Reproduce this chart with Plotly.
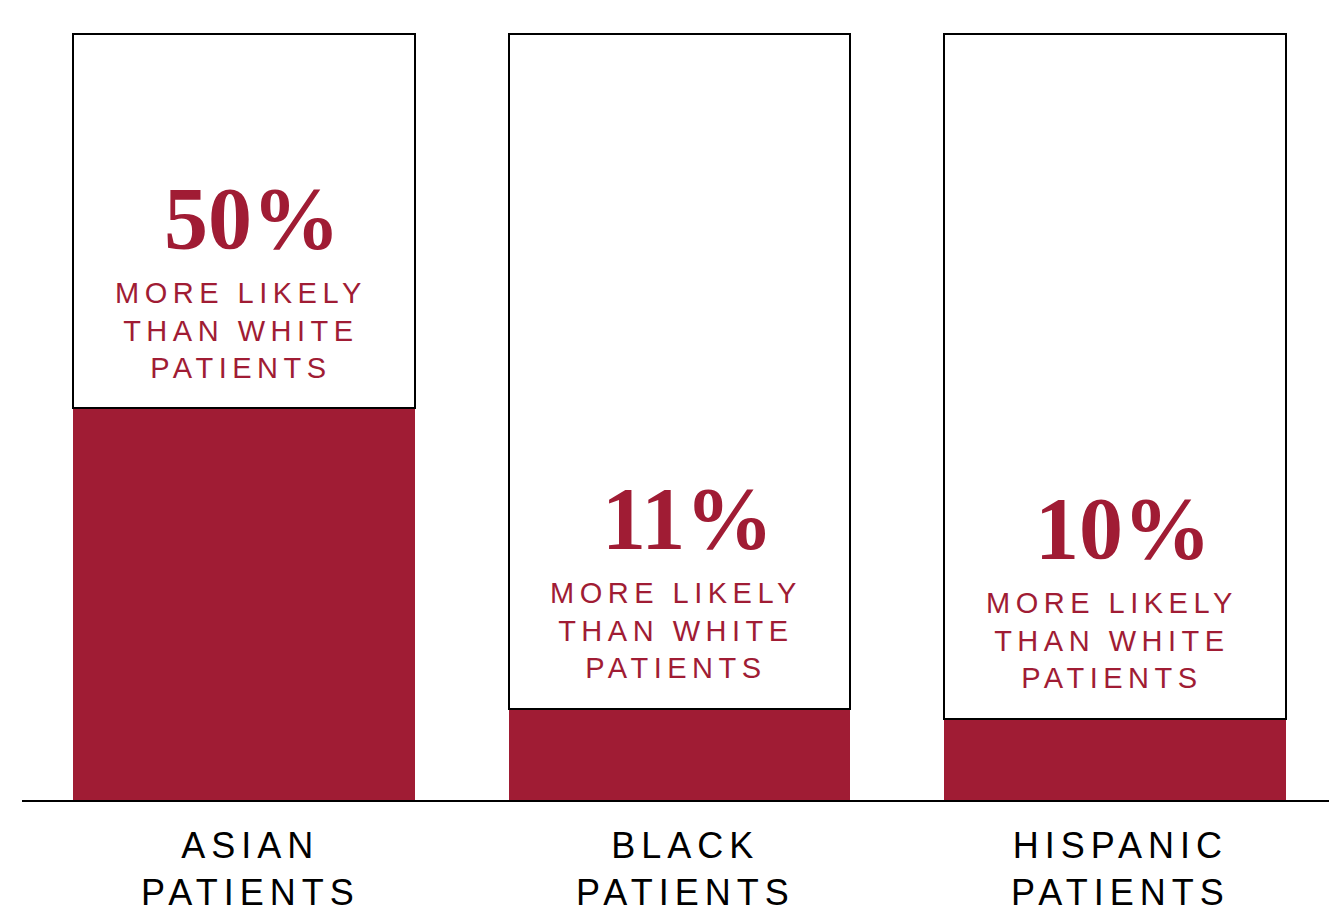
import plotly.graph_objects as go

# ---- data ----
categories = ["ASIAN", "BLACK", "HISPANIC"]
category_second_line = ["PATIENTS", "PATIENTS", "PATIENTS"]
# filled share of each bar as drawn in the picture (scale 0-100)
values = [51.1, 11.9, 10.6]
total = 100
big_labels = ["50%", "11%", "10%"]
sub_label_lines = ["MORE LIKELY", "THAN WHITE", "PATIENTS"]

RED = "#A01C34"
SANS = "Liberation Sans, Arial, sans-serif"
SERIF = "Liberation Serif, Times New Roman, serif"

x = list(range(len(categories)))
remainder = [total - v for v in values]


def spaced(s, px):
    return f"<span style='letter-spacing:{px}px'>{s}</span>"


fig = go.Figure()
fig.add_trace(go.Bar(x=x, y=values, marker=dict(color=RED, line=dict(width=0)),
                     width=0.785, hoverinfo="skip", showlegend=False))
fig.add_trace(go.Bar(x=x, y=remainder, marker=dict(color="white", line=dict(color="black", width=2)),
                     width=0.785, hoverinfo="skip", showlegend=False))

annotations = []
sub_text = "<br>".join(spaced(s, 5.5) for s in sub_label_lines)
for i, v in enumerate(values):
    annotations.append(dict(x=i, y=v + 24.85, xref="x", yref="y", text=big_labels[i],
                            showarrow=False, xanchor="center", yanchor="middle", xshift=8,
                            font=dict(family=SERIF, size=88, color=RED, weight="bold")))
    annotations.append(dict(x=i, y=v + 10.2, xref="x", yref="y", text=sub_text,
                            showarrow=False, xanchor="center", yanchor="middle", xshift=-3,
                            font=dict(family=SANS, size=29, color=RED)))
    annotations.append(dict(x=i, y=0, xref="x", yref="y",
                            text=spaced(categories[i], 6) + "<br>" + spaced(category_second_line[i], 6),
                            showarrow=False, xanchor="center", yanchor="top", xshift=6, yshift=-23,
                            font=dict(family=SANS, size=36, color="black")))

# The page body adds an 8px offset, so the figure is sized to fit the 1337x915 window.
fig.update_layout(
    barmode="stack",
    width=1329, height=907,
    margin=dict(l=14, r=7, t=22, b=115, autoexpand=False),
    paper_bgcolor="white", plot_bgcolor="white",
    annotations=annotations,
    bargap=0,
)
fig.update_xaxes(range=[-0.51, 2.494], tickvals=x, showticklabels=False, showgrid=False,
                 zeroline=False, showline=True, linecolor="black", linewidth=2,
                 ticks="", automargin=False)
fig.update_yaxes(range=[0, 100.5], visible=False, showgrid=False, zeroline=False, automargin=False)

fig.write_html("out.html")
